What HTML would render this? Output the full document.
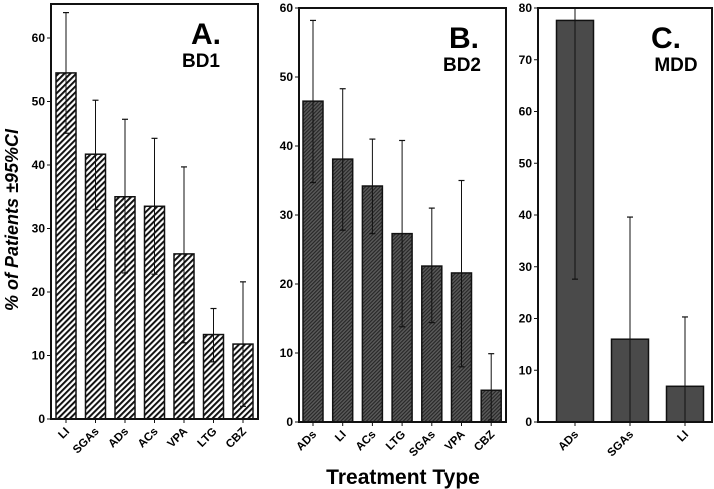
<!DOCTYPE html>
<html><head><meta charset="utf-8"><style>
body{margin:0;background:#fff}
svg{display:block;font-family:"Liberation Sans",Arial,sans-serif}
</style></head><body>
<svg id="c" width="714" height="489" xmlns="http://www.w3.org/2000/svg">
<defs>
<pattern id="hatchA" patternUnits="userSpaceOnUse" width="4.2" height="4.2" patternTransform="rotate(45)">
<rect width="4.2" height="4.2" fill="#fff"/><rect width="2" height="4.2" fill="#111"/></pattern>
<pattern id="hatchB" patternUnits="userSpaceOnUse" width="2.6" height="2.6" patternTransform="rotate(45)">
<rect width="2.6" height="2.6" fill="#5a5a5a"/><rect width="1.1" height="2.6" fill="#262626"/></pattern>
</defs>
<text x="18" y="220" transform="rotate(-90 18 220)" text-anchor="middle" font-size="18" font-weight="bold" font-style="italic">% of Patients ±95%CI</text>
<text x="403" y="484" text-anchor="middle" font-size="21" font-weight="bold">Treatment Type</text>
</svg>
<script>
const catsA=["LI","SGAs","ADs","ACs","VPA","LTG","CBZ"];
const valsA=[54.5,41.7,35,33.5,26,13.3,11.8];
const loA=[45,33,23,22.8,12,9,2];
const hiA=[64,50.2,47.2,44.2,39.7,17.4,21.6];
const ticksA=[0,10,20,30,40,50,60];
const catsB=["ADs","LI","ACs","LTG","SGAs","VPA","CBZ"];
const valsB=[46.5,38.1,34.2,27.3,22.6,21.6,4.6];
const loB=[34.7,27.8,27.3,13.8,14.4,8,0.3];
const hiB=[58.2,48.3,41,40.8,31,35,9.9];
const ticksB=[0,10,20,30,40,50,60];
const catsC=["ADs","SGAs","LI"];
const valsC=[77.6,16,6.9];
const loC=[27.6,0,0];
const hiC=[85,39.6,20.3];
const ticksC=[0,10,20,30,40,50,60,70,80];
const svg=document.getElementById('c');
const NS="http://www.w3.org/2000/svg";
function mk(tag,attrs,parent){const e=document.createElementNS(NS,tag);for(const k in attrs)e.setAttribute(k,attrs[k]);(parent||svg).appendChild(e);return e;}
function panel(o){
  const g=mk('g',{});
  
  
  const y=v=>o.y0-(v/o.max)*(o.y0-o.yTopVal);
  const x=i=>o.x0+o.step*i;
  o.cats.forEach((c,i)=>{
    const cx=x(i);
    const r=mk('rect',{x:cx-o.bw/2,y:y(o.vals[i]),width:o.bw,height:o.y0-y(o.vals[i]),fill:o.fill,stroke:'#111','stroke-width':1.5},g);
    
    
    const top=Math.max(y(o.hi[i]),o.boxTop);
    const l=mk('line',{x1:cx,x2:cx,y1:top,y2:y(o.lo[i]),stroke:'#111','stroke-width':1},g);
    
    
    if(y(o.hi[i])>=o.boxTop) mk('line',{x1:cx-3,x2:cx+3,y1:top,y2:top,stroke:'#111','stroke-width':1.2},g);
    if(o.lo[i]>0) mk('line',{x1:cx-3,x2:cx+3,y1:y(o.lo[i]),y2:y(o.lo[i]),stroke:'#111','stroke-width':1.2},g);
    mk('line',{x1:cx,x2:cx,y1:o.y0,y2:o.y0+4,stroke:'#111'},g);
    const t=mk('text',{x:cx+4,y:o.y0+13,'text-anchor':'end','font-size':11.5,'font-weight':'bold',transform:`rotate(-45 ${cx+4} ${o.y0+13})`},g);
    t.textContent=c;
    
    
  });
  o.ticks.forEach(v=>{
    mk('line',{x1:o.bx-4,x2:o.bx,y1:y(v),y2:y(v),stroke:'#111'},g);
    const t=mk('text',{x:o.bx-6,y:y(v)+4,'text-anchor':'end','font-size':12,'font-weight':'bold'},g);
    t.textContent=v;
    
    
  });
  const b=mk('rect',{x:o.bx,y:o.boxTop,width:o.bw2,height:o.y0-o.boxTop,fill:'none',stroke:'#111','stroke-width':2},g);
  
  
  const t1=mk('text',{x:o.lx,y:o.boxTop+40,'text-anchor':'middle','font-size':30,'font-weight':'bold'},g);
  t1.textContent=o.letter;
  
  
  const t2=mk('text',{x:o.lx2,y:o.boxTop+63,'text-anchor':'middle','font-size':19,'font-weight':'bold'},g);
  t2.textContent=o.sub;
  
  
}
panel({name:'panel-a-bd1',cats:catsA,vals:valsA,lo:loA,hi:hiA,ticks:ticksA,max:60,y0:419,yTopVal:38,boxTop:4,bx:51,bw2:207,x0:66,step:29.5,bw:20,fill:'url(#hatchA)',letter:'A.',sub:'BD1',lx:206,lx2:201});
panel({name:'panel-b-bd2',cats:catsB,vals:valsB,lo:loB,hi:hiB,ticks:ticksB,max:60,y0:422,yTopVal:8,boxTop:8,bx:299,bw2:207,x0:313,step:29.7,bw:20,fill:'url(#hatchB)',letter:'B.',sub:'BD2',lx:464,lx2:462});
panel({name:'panel-c-mdd',cats:catsC,vals:valsC,lo:loC,hi:hiC,ticks:ticksC,max:80,y0:422,yTopVal:8,boxTop:8,bx:538,bw2:174,x0:575,step:55,bw:37,fill:'#4a4a4a',letter:'C.',sub:'MDD',lx:666,lx2:676});
</script>
</body></html>
